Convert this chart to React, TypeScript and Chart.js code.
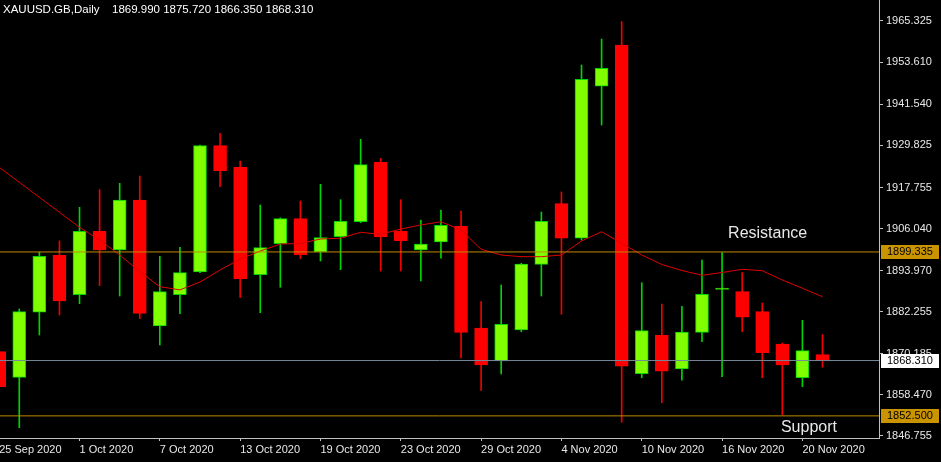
import React, { useEffect, useRef } from 'react';
import { Chart, registerables } from 'chart.js';

Chart.register(...registerables);

const symbolTitle = 'XAUUSD.GB,Daily';
const headerValues = '1869.990 1875.720 1866.350 1868.310';

const dates = [
  '25 Sep 2020', '28 Sep 2020', '29 Sep 2020', '30 Sep 2020',
  '1 Oct 2020', '2 Oct 2020', '5 Oct 2020', '6 Oct 2020', '7 Oct 2020', '8 Oct 2020', '9 Oct 2020',
  '12 Oct 2020', '13 Oct 2020', '14 Oct 2020', '15 Oct 2020', '16 Oct 2020',
  '19 Oct 2020', '20 Oct 2020', '21 Oct 2020', '22 Oct 2020', '23 Oct 2020',
  '26 Oct 2020', '27 Oct 2020', '28 Oct 2020', '29 Oct 2020', '30 Oct 2020',
  '2 Nov 2020', '3 Nov 2020', '4 Nov 2020', '5 Nov 2020', '6 Nov 2020',
  '9 Nov 2020', '10 Nov 2020', '11 Nov 2020', '12 Nov 2020', '13 Nov 2020',
  '16 Nov 2020', '17 Nov 2020', '18 Nov 2020', '19 Nov 2020', '20 Nov 2020',
  '23 Nov 2020',
];

const opens = [
  1870.84, 1863.52, 1882.10, 1898.38, 1887.13, 1905.24, 1899.90, 1914.18, 1878.18, 1887.13,
  1893.61, 1929.70, 1923.53, 1892.84, 1901.70, 1908.84, 1899.33, 1903.70, 1907.98, 1924.95,
  1905.33, 1899.90, 1902.18, 1906.67, 1877.61, 1868.18, 1877.04, 1895.81, 1913.13, 1903.24,
  1946.67, 1958.47, 1864.55, 1875.52, 1865.90, 1876.38, 1888.60, 1887.98, 1882.27, 1873.04,
  1863.41, 1869.99,
];
const highs = [
  1870.84, 1883.04, 1899.24, 1902.47, 1912.10, 1917.13, 1918.95, 1921.04, 1898.10, 1900.67,
  1929.90, 1933.24, 1925.33, 1912.75, 1909.10, 1913.90, 1918.67, 1914.27, 1931.53, 1926.10,
  1914.27, 1908.47, 1911.33, 1911.04, 1885.13, 1889.90, 1896.10, 1910.75, 1916.47, 1952.75,
  1960.18, 1965.13, 1890.55, 1884.47, 1883.81, 1897.04, 1899.13, 1893.41, 1884.75, 1873.30,
  1879.81, 1875.72,
];
const lows = [
  1860.84, 1849.13, 1875.61, 1881.33, 1884.55, 1889.70, 1886.75, 1880.27, 1872.75, 1881.70,
  1893.40, 1917.98, 1886.38, 1881.98, 1889.24, 1897.41, 1896.75, 1894.27, 1907.70, 1893.90,
  1893.90, 1891.04, 1897.53, 1869.04, 1859.81, 1864.47, 1876.55, 1886.75, 1881.53, 1902.75,
  1935.61, 1850.67, 1863.41, 1856.27, 1862.67, 1873.70, 1863.70, 1876.55, 1863.41, 1852.75,
  1860.84, 1866.35,
];
const closes = [
  1860.84, 1882.27, 1898.10, 1885.33, 1905.24, 1899.90, 1914.18, 1881.81, 1887.98, 1893.41,
  1929.70, 1922.55, 1891.70, 1900.56, 1908.84, 1898.56, 1903.41, 1908.10, 1924.27, 1903.61,
  1902.55, 1901.61, 1906.95, 1876.38, 1867.04, 1878.67, 1895.90, 1908.10, 1903.24, 1948.67,
  1951.81, 1866.67, 1876.84, 1865.24, 1876.47, 1887.24, 1889.00, 1880.67, 1870.55, 1867.04,
  1871.13, 1868.31,
];
const movingAverage = [
  1923.53, 1919.24, 1914.95, 1910.67, 1906.38, 1902.75, 1898.47, 1893.70, 1889.41, 1888.50,
  1890.75, 1894.18, 1897.30, 1899.60, 1901.61, 1901.75, 1903.04, 1903.24, 1904.95, 1904.38,
  1905.90, 1907.04, 1907.98, 1905.61, 1900.10, 1898.47, 1897.98, 1897.98, 1898.47, 1902.47,
  1905.13, 1901.81, 1898.47, 1895.75, 1894.04, 1892.67, 1893.47, 1894.38, 1893.98, 1891.33,
  1888.95, 1886.55,
];

const yTickValues = [
  1965.325, 1953.61, 1941.54, 1929.825, 1917.755, 1906.04, 1893.97, 1882.255, 1870.185, 1858.47, 1846.755,
];
const xTickIndices = [0, 4, 8, 12, 16, 20, 24, 28, 32, 36, 40];

const resistanceLevel = 1899.335;
const supportLevel = 1852.5;
const lastPrice = 1868.31;

const Y_MIN = 1846.18;
const Y_MAX = 1971.325;
const X_MIN = 0.04;
const X_MAX = 43.815;

const FONT = "'Liberation Sans', Arial, sans-serif";
const UP_FILL = '#7fff00';
const UP_LINE = '#00d400';
const DN_FILL = '#ff0000';
const DN_LINE = '#f00000';
const LEVEL_COLOR = '#c08800';
const BADGE_COLOR = '#c99400';
const PRICE_LINE = '#778899';
const AXIS_COLOR = '#c0c0c0';
const TEXT_COLOR = '#e8e8e8';

export default function App() {
  const canvasRef = useRef<HTMLCanvasElement | null>(null);

  useEffect(() => {
    document.body.style.margin = '0';
    document.body.style.background = '#000';
    const canvas = canvasRef.current;
    if (!canvas) return;

    const idx = dates.map((_, i) => i);
    const up = idx.map((i) => closes[i] >= opens[i]);

    const overlay = {
      id: 'overlay',
      beforeDraw(chart: any) {
        const ctx = chart.ctx;
        ctx.save();
        ctx.fillStyle = '#000';
        ctx.fillRect(0, 0, chart.width, chart.height);
        ctx.restore();
      },
      afterDraw(chart: any) {
        const { ctx, chartArea } = chart;
        const xs = chart.scales.x;
        const ys = chart.scales.y;
        ctx.save();
        // header
        ctx.font = `11.5px ${FONT}`;
        ctx.fillStyle = '#ffffff';
        ctx.textBaseline = 'middle';
        ctx.textAlign = 'left';
        ctx.fillText(symbolTitle, 3, 10);
        ctx.fillText(headerValues, 112, 10);

        // annotations
        ctx.save();
        ctx.beginPath();
        ctx.rect(chartArea.left, chartArea.top, chartArea.right - chartArea.left, chartArea.bottom - chartArea.top);
        ctx.clip();
        ctx.font = `16px ${FONT}`;
        ctx.fillStyle = TEXT_COLOR;
        ctx.textBaseline = 'alphabetic';
        ctx.fillText('Resistance', xs.getPixelForValue(36.3), ys.getPixelForValue(resistanceLevel) - 14);
        ctx.fillText('Support', xs.getPixelForValue(38.93), ys.getPixelForValue(supportLevel) + 16);
        ctx.restore();

        // price badges
        const badge = (value: number, bg: string) => {
          const py = Math.round(ys.getPixelForValue(value));
          ctx.fillStyle = bg;
          ctx.fillRect(chartArea.right + 2, py - 7, 58, 14);
          ctx.fillStyle = '#000';
          ctx.font = `11px ${FONT}`;
          ctx.textBaseline = 'middle';
          ctx.fillText(value.toFixed(3), chartArea.right + 8, py);
        };
        badge(resistanceLevel, BADGE_COLOR);
        badge(supportLevel, BADGE_COLOR);
        badge(lastPrice, '#ffffff');
        ctx.restore();
      },
    };

    const levelLine = (value: number, color: string) => ({
      type: 'line' as const,
      label: 'level',
      data: [
        { x: X_MIN - 1, y: value },
        { x: X_MAX + 1, y: value },
      ],
      borderColor: color,
      borderWidth: 1,
      pointRadius: 0,
      tension: 0,
      order: 0,
    });

    const chart = new Chart(canvas, {
      type: 'bar',
      data: {
        datasets: [
          {
            type: 'bar',
            label: 'wick',
            data: idx.map((i) => ({ x: i, y: [lows[i], highs[i]] })) as any,
            backgroundColor: idx.map((i) => (up[i] ? UP_LINE : DN_LINE)),
            borderWidth: 0,
            grouped: false,
            barPercentage: 1,
            categoryPercentage: 1,
            maxBarThickness: 1,
            order: 3,
          } as any,
          {
            type: 'bar',
            label: 'body',
            data: idx.map((i) => ({ x: i, y: [opens[i], closes[i]] })) as any,
            backgroundColor: idx.map((i) => (up[i] ? UP_FILL : DN_FILL)),
            borderColor: idx.map((i) => (up[i] ? UP_LINE : DN_FILL)),
            borderWidth: 1,
            borderSkipped: false,
            grouped: false,
            barPercentage: 1,
            categoryPercentage: 1,
            maxBarThickness: 13,
            order: 2,
          } as any,
          {
            type: 'line',
            label: 'MA',
            data: idx.map((i) => ({ x: i, y: movingAverage[i] })),
            borderColor: '#e00000',
            borderWidth: 1,
            pointRadius: 0,
            tension: 0,
            order: 1,
          } as any,
          levelLine(resistanceLevel, LEVEL_COLOR),
          levelLine(supportLevel, LEVEL_COLOR),
          levelLine(lastPrice, PRICE_LINE),
        ],
      },
      options: {
        responsive: false,
        animation: false,
        devicePixelRatio: 1,
        layout: { padding: 0 },
        plugins: {
          legend: { display: false },
          tooltip: { enabled: false },
          title: { display: false },
        },
        events: [],
        scales: {
          x: {
            type: 'linear',
            position: 'bottom',
            min: X_MIN,
            max: X_MAX,
            offset: false,
            grid: {
              drawOnChartArea: false,
              drawTicks: true,
              tickLength: 3,
              color: AXIS_COLOR,
              offset: false,
            },
            border: { display: true, color: AXIS_COLOR, width: 1 },
            ticks: {
              autoSkip: false,
              maxRotation: 0,
              minRotation: 0,
              align: 'start',
              padding: 2,
              color: TEXT_COLOR,
              font: { family: FONT, size: 11 },
              callback: (v: any) => dates[Number(v)] ?? '',
            },
            afterBuildTicks: (scale: any) => {
              scale.ticks = xTickIndices.map((v) => ({ value: v }));
            },
            afterFit: (scale: any) => {
              scale.height = 24;
              scale.paddingLeft = 0;
              scale.paddingRight = 0;
            },
          },
          y: {
            type: 'linear',
            position: 'right',
            min: Y_MIN,
            max: Y_MAX,
            beginAtZero: false,
            grid: {
              drawOnChartArea: false,
              drawTicks: true,
              tickLength: 4,
              color: AXIS_COLOR,
            },
            border: { display: true, color: AXIS_COLOR, width: 1 },
            ticks: {
              padding: 3,
              color: TEXT_COLOR,
              font: { family: FONT, size: 11 },
              callback: (v: any) => Number(v).toFixed(3),
            },
            afterBuildTicks: (scale: any) => {
              scale.ticks = yTickValues.map((v) => ({ value: v }));
            },
            afterFit: (scale: any) => {
              scale.width = 62;
              scale.paddingTop = 0;
              scale.paddingBottom = 0;
            },
          },
        },
      } as any,
      plugins: [overlay],
    });

    return () => {
      chart.destroy();
    };
  }, []);

  return (
    <div style={{ width: 941, height: 462, background: '#000' }}>
      <canvas ref={canvasRef} width={941} height={462} style={{ display: 'block' }} />
    </div>
  );
}
